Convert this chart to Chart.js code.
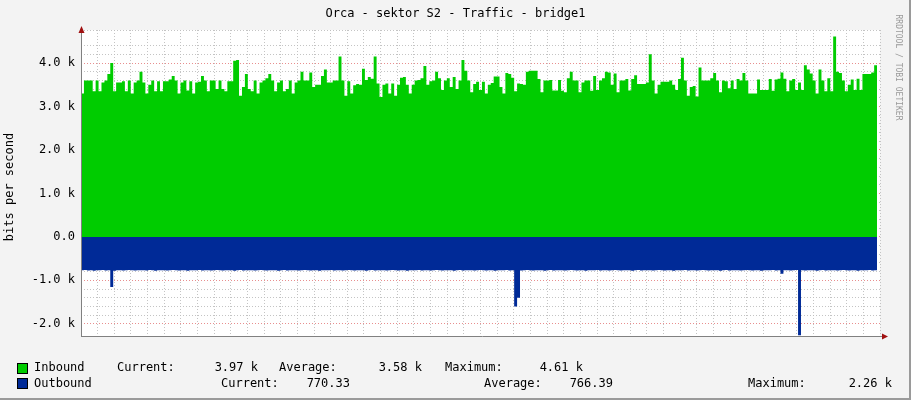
<!DOCTYPE html>
<html>
<head>
<meta charset="utf-8">
<script src="https://cdn.jsdelivr.net/npm/chart.js@4"></script>
<style>
  body { margin: 0; background: #f3f3f3; }
  #wrap { position: relative; width: 911px; height: 400px; background: #f3f3f3; font-family: 'DejaVu Sans Mono', monospace; font-size: 12px; color: #000; overflow: hidden; }
  #wrap canvas { position: absolute; left: 0; top: 0; }
  .t { position: absolute; white-space: pre; }
  .sq { position: absolute; width: 9px; height: 9px; border: 1px solid #000; }
  #edge { position: absolute; right: 0; top: 0; width: 2px; height: 400px; background: #9a9a9a; }
  #edgeb { position: absolute; left: 0; bottom: 0; width: 911px; height: 2px; background: #9a9a9a; }
</style>
</head>
<body>
<div id="wrap">
  <canvas id="chart" width="911" height="400"></canvas>
  <div class="t" style="left:0;width:911px;text-align:center;top:6px;">Orca - sektor S2 - Traffic - bridge1</div>
  <div class="t" style="left:-46px;top:180px;transform:rotate(-90deg);width:110px;text-align:center;">bits per second</div>
  <div class="t" style="left:848px;top:60px;transform:rotate(90deg);font-size:8px;color:#999;width:100px;text-align:center;">RRDTOOL / TOBI OETIKER</div>
  <div class="sq" style="left:17px;top:363px;background:#00cc00;"></div>
  <div class="t" style="left:34px;top:360px;">Inbound</div>
  <div class="t" style="left:117px;top:360px;">Current:</div>
  <div class="t" style="left:208px;top:360px;width:50px;text-align:right;">3.97 k</div>
  <div class="t" style="left:279px;top:360px;">Average:</div>
  <div class="t" style="left:372px;top:360px;width:50px;text-align:right;">3.58 k</div>
  <div class="t" style="left:445px;top:360px;">Maximum:</div>
  <div class="t" style="left:533px;top:360px;width:50px;text-align:right;">4.61 k</div>
  <div class="sq" style="left:17px;top:378px;background:#002a97;"></div>
  <div class="t" style="left:34px;top:376px;">Outbound</div>
  <div class="t" style="left:221px;top:376px;">Current:</div>
  <div class="t" style="left:300px;top:376px;width:50px;text-align:right;">770.33</div>
  <div class="t" style="left:484px;top:376px;">Average:</div>
  <div class="t" style="left:563px;top:376px;width:50px;text-align:right;">766.39</div>
  <div class="t" style="left:748px;top:376px;">Maximum:</div>
  <div class="t" style="left:842px;top:376px;width:50px;text-align:right;">2.26 k</div>
  <div id="edge"></div><div id="edgeb"></div>
</div>
<script>
// time window in hours (03:26 -> 03:26 next day)
const startHour = 3.43;
const spanHours = 24;

// inbound, in k bits/s
const inbound = [
  3.3,3.6,3.6,3.6,3.35,3.6,3.35,3.55,3.6,3.75,4.0,3.35,3.55,3.55,3.58,3.35,3.6,3.3,3.55,3.6,
  3.8,3.55,3.3,3.5,3.6,3.35,3.58,3.35,3.58,3.58,3.62,3.7,3.6,3.3,3.55,3.6,3.37,3.58,3.3,3.55,
  3.57,3.7,3.6,3.35,3.6,3.6,3.4,3.6,3.4,3.35,3.58,3.58,4.05,4.07,3.25,3.45,3.75,3.4,3.35,3.6,
  3.3,3.55,3.6,3.65,3.75,3.6,3.35,3.55,3.6,3.35,3.4,3.6,3.3,3.55,3.6,3.8,3.6,3.6,3.78,3.45,
  3.5,3.5,3.7,3.85,3.55,3.55,3.6,3.6,4.15,3.6,3.25,
  3.58,3.3,3.49,3.52,3.5,3.87,3.61,3.68,3.64,4.15,3.53,3.22,3.5,3.53,3.3,3.53,3.25,3.5,3.66,3.68,
  3.5,3.3,3.5,3.6,3.61,3.65,3.93,3.5,3.58,3.6,3.8,3.65,3.38,3.6,3.65,3.45,3.68,3.4,3.6,4.07,
  3.82,3.6,3.33,3.52,3.57,3.38,3.57,3.3,3.5,3.54,3.69,3.69,3.45,3.3,3.77,3.75,3.66,3.35,3.53,3.52,
  3.5,3.8,3.82,3.82,3.82,3.63,3.33,3.6,3.6,3.61,3.37,3.37,3.61,3.36,3.33,3.65,3.8,3.6,3.6,3.33,
  3.55,3.6,3.6,3.36,3.7,3.38,3.6,3.65,3.8,3.78,3.5,
  3.76,3.33,3.6,3.6,3.63,3.37,3.63,3.72,3.52,3.52,3.52,3.55,4.2,3.6,3.3,3.5,3.57,3.57,3.57,3.6,
  3.5,3.38,3.63,4.12,3.6,3.25,3.45,3.47,3.23,3.9,3.6,3.6,3.6,3.65,3.77,3.6,3.33,3.6,3.58,3.42,
  3.6,3.4,3.63,3.6,3.77,3.6,3.3,3.3,3.3,3.62,3.38,3.38,3.38,3.63,3.36,3.62,3.64,3.78,3.64,3.35,
  3.6,3.63,3.38,3.55,3.38,3.95,3.85,3.76,3.6,3.3,3.85,3.6,3.35,3.65,3.35,4.61,3.8,3.77,3.6,3.35,
  3.5,3.62,3.38,3.64,3.38,3.75,3.75,3.75,3.78,3.95,3.97
];

// outbound, in bits/s (drawn below zero)
const outbound = [
  770,760,775,770,780,765,770,760,775,770,1150,780,770,765,775,770,760,770,775,770,765,
  770,775,760,770,780,770,765,770,775,770,760,770,775,765,770,780,770,765,770,760,775,
  770,765,775,770,760,770,775,770,765,770,780,770,760,775,770,765,770,775,770,760,770,
  775,770,765,770,780,770,760,775,770,765,770,775,770,760,770,775,765,770,780,770,765,
  770,760,775,770,765,775,770,760,770,775,770,765,770,780,770,760,775,770,765,770,775,
  770,760,770,775,765,770,780,770,765,770,760,775,770,765,775,770,760,770,775,770,765,
  770,780,770,760,775,770,765,770,775,770,760,770,775,765,770,780,770,765,770,760,775,
  770,1600,1400,775,770,760,770,775,770,765,770,780,770,760,775,770,765,770,775,770,760,
  770,775,765,770,780,770,765,770,760,775,770,765,775,770,760,770,775,770,765,770,780,
  770,760,775,770,765,770,775,770,760,770,775,765,770,780,770,765,770,760,775,770,765,
  775,770,760,770,775,770,765,770,780,770,760,775,770,765,770,775,770,760,770,775,765,
  770,780,770,765,770,760,775,770,850,770,765,775,770,760,2260,770,775,770,765,770,780,
  770,760,775,770,765,770,775,770,760,770,775,765,770,780,770,765,770,760,775,770,770
];

const step = spanHours / inbound.length;
const inPts = inbound.map((v, i) => ({ x: startHour + i * step, y: v }));
const outPts = outbound.map((v, i) => ({ x: startHour + i * step, y: -v / 1000 }));

const isWhole = v => Math.abs(v - Math.round(v)) < 1e-6;

const arrows = {
  id: 'arrows',
  afterDraw(c) {
    const { ctx, chartArea: a } = c;
    ctx.save();
    ctx.strokeStyle = '#808080';
    ctx.lineWidth = 1;
    ctx.beginPath();
    ctx.moveTo(a.left + 0.5, a.bottom); ctx.lineTo(a.left + 0.5, a.top - 2);
    ctx.moveTo(a.left, a.bottom + 0.5); ctx.lineTo(a.right + 4, a.bottom + 0.5);
    ctx.stroke();
    ctx.fillStyle = '#a01010';
    ctx.beginPath();
    ctx.moveTo(a.left - 2.5, a.top + 3); ctx.lineTo(a.left + 3.5, a.top + 3); ctx.lineTo(a.left + 0.5, a.top - 4); ctx.fill();
    ctx.beginPath();
    ctx.moveTo(a.right + 2, a.bottom - 2.5); ctx.lineTo(a.right + 2, a.bottom + 3.5); ctx.lineTo(a.right + 8, a.bottom + 0.5); ctx.fill();
    ctx.restore();
  }
};

new Chart(document.getElementById('chart'), {
  type: 'line',
  data: {
    datasets: [
      { data: inPts, stepped: true, borderWidth: 0, pointRadius: 0, fill: 'origin', backgroundColor: '#00cc00', borderColor: '#00cc00' },
      { data: outPts, stepped: true, borderWidth: 0, pointRadius: 0, fill: 'origin', backgroundColor: '#002a97', borderColor: '#002a97' }
    ]
  },
  options: {
    responsive: false, animation: false,
    layout: { padding: { top: 30, right: 31, bottom: 40, left: 0 } },
    plugins: { legend: { display: false }, tooltip: { enabled: false } },
    scales: {
      x: {
        type: 'linear', min: startHour, max: startHour + spanHours,
        afterFit: s => { s.height = 24; },
        ticks: {
          stepSize: 0.5, autoSkip: false, maxRotation: 0, padding: 2, color: '#000',
          font: { family: 'DejaVu Sans Mono', size: 12 },
          callback: v => (isWhole(v) && Math.round(v) % 2 === 0) ? String(Math.round(v) % 24).padStart(2, '0') + ':00' : ''
        },
        grid: {
          drawTicks: false,
          color: c => (isWhole(c.tick.value) && Math.round(c.tick.value) % 2 === 0) ? 'rgba(230,130,130,0.9)' : 'rgba(190,190,190,0.9)'
        },
        border: { display: false, dash: [1, 2] }
      },
      y: {
        min: -2.28, max: 4.76,
        afterFit: s => { s.width = 81; },
        ticks: {
          stepSize: 0.2, autoSkip: false, padding: 6, color: '#000',
          font: { family: 'DejaVu Sans Mono', size: 12 },
          callback: v => isWhole(v) ? (Math.round(v) === 0 ? '0.0' : Math.round(v).toFixed(1) + ' k') : ''
        },
        grid: {
          drawTicks: false,
          color: c => isWhole(c.tick.value) ? 'rgba(230,130,130,0.9)' : 'rgba(190,190,190,0.9)'
        },
        border: { display: false, dash: [1, 2] }
      }
    }
  },
  plugins: [arrows, {
    id: 'bg',
    beforeDraw(c) {
      const { ctx, chartArea: a } = c;
      ctx.save(); ctx.fillStyle = '#fff';
      ctx.fillRect(a.left, a.top, a.right - a.left, a.bottom - a.top);
      ctx.restore();
    }
  }]
});
</script>
</body>
</html>
